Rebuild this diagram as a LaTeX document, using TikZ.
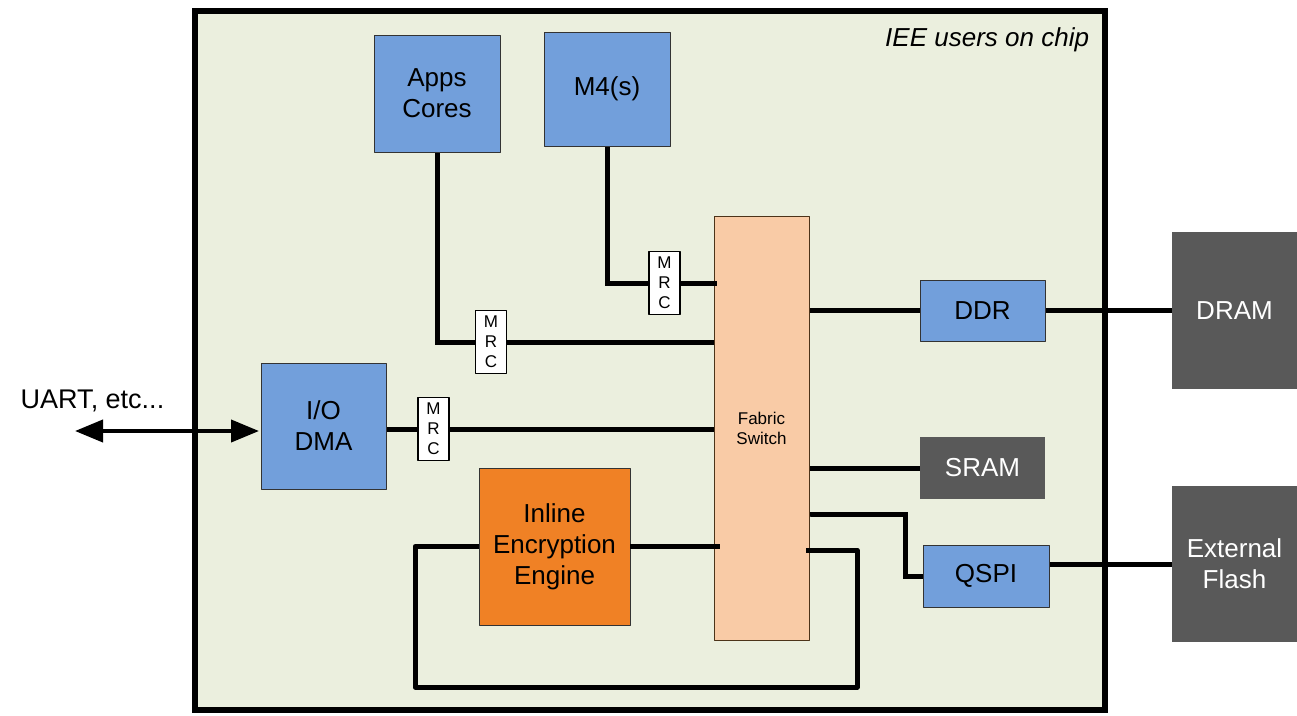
\documentclass[tikz,border=0pt]{standalone}
\usepackage{fontspec}
\setmainfont{Liberation Sans}
\definecolor{chip}{RGB}{235,239,222}
\definecolor{core}{RGB}{114,159,219}
\definecolor{fabric}{RGB}{249,203,166}
\definecolor{engine}{RGB}{240,129,37}
\definecolor{memory}{RGB}{89,89,89}
\usetikzlibrary{arrows.meta}
\usetikzlibrary{backgrounds}
\tikzstyle{base}=[x=1pt, y=-1pt, inner sep=0pt, outer sep=0pt, line join=round]
\tikzstyle{blk}=[draw=black!80, line width=0.8pt, align=center, font=\fontsize{26}{31}\selectfont]
\tikzstyle{unit}=[blk, fill=core]
\tikzstyle{mem}=[blk, draw=none, fill=memory, text=white]
\tikzstyle{mrc}=[draw=black, line width=1.2pt, fill=white, minimum width=31pt, minimum height=63pt, align=center, font=\fontsize{17}{20}\selectfont]
\tikzstyle{wire}=[line width=5pt, line cap=round]
\tikzstyle{tap}=[line width=5pt, line cap=butt]

\begin{document}
\begin{tikzpicture}[base]
    \path [use as bounding box] (0,0) rectangle (1297,715);
    \node [anchor=east, font=\fontsize{26}{30}\selectfont\itshape] (title) at (1089,40) {IEE users on chip};

    % processors and DMA
    \node [unit, minimum width=126pt, minimum height=117pt] (apps) at (437,93.5) {Apps\\Cores};
    \node [unit, minimum width=126pt, minimum height=114pt] (m4) at (607,89) {M4(s)};
    \node [unit, minimum width=125pt, minimum height=126pt] (iodma) at (323.5,426) {I/O\\DMA};
    \node [blk, fill=engine, minimum width=151pt, minimum height=157pt] (iee) at (554.5,546.5) {Inline\\Encryption\\Engine};

    % switch
    \node [draw=black!60!brown, line width=0.8pt, fill=fabric, minimum width=95pt, minimum height=424pt, align=center, font=\fontsize{17}{20}\selectfont] (fabric) at (761.5,428) {Fabric\\Switch};

    % memory side
    \node [unit, minimum width=125pt, minimum height=61pt] (ddr) at (982.5,310.5) {DDR};
    \node [mem, minimum width=125pt, minimum height=62pt] (sram) at (982.5,468) {SRAM};
    \node [unit, minimum width=126pt, minimum height=62pt] (qspi) at (986,576) {QSPI};
    \node [mem, minimum width=125pt, minimum height=157pt] (dram) at (1234.5,310.5) {DRAM};
    \node [mem, minimum width=125pt, minimum height=156pt] (flash) at (1234.5,564) {External\\Flash};

    \node [mrc] (mrcA) at (664.5,283) {M\\R\\C};
    \node [mrc] (mrcB) at (491,342) {M\\R\\C};
    \node [mrc] (mrcC) at (433.5,429) {M\\R\\C};

    \coordinate (qspiTap) at (811,514);
    \coordinate (qspiBend) at (905,576);
    \coordinate (flashTap) at (1049,564);
    \coordinate (ieeTap) at (720,546.5);
    \coordinate (loopA) at (806,550);
    \coordinate (loopB) at (857,687);
    \coordinate (loopC) at (415,687);
    \coordinate (uart) at (75,431);

    % chip outline and wiring go underneath the blocks
    \begin{pgfonlayer}{background}
        \draw [line width=6.5pt, fill=chip] (195,11) rectangle (1105,710);
        \draw [wire] (apps.south) |- (mrcB.west);
        \draw [wire] (mrcB.east) -- (mrcB.east -| fabric.west);
        \draw [wire] (m4.south) |- (mrcA.west);
        \draw [wire] (iodma.east |- mrcC) -- (mrcC.west);
        \draw [wire] (mrcC.east) -- (mrcC.east -| fabric.west);
        \draw [wire] (fabric.east |- ddr) -- (ddr.west);
        \draw [wire] (ddr.east) -- (ddr.east -| dram.west);
        \draw [wire] (fabric.east |- sram) -- (sram.west);
        \draw [wire] (qspiTap) -| (qspiBend) -- (qspi.west);
        \draw [wire] (flashTap) -- (flashTap -| flash.west);
    \end{pgfonlayer}

    % these reach a little into the switch
    \draw [tap] (mrcA.east) -- ([xshift=3pt]mrcA.east -| fabric.west);
    \draw [tap] (iee.east) -- (ieeTap);
    \draw [tap] (loopA) -| (loopB) -- (loopC) |- (iee.west);

    \draw [line width=4pt, {Triangle[length=28pt,width=22pt]}-{Triangle[length=28pt,width=22pt]}] (uart) -- ([xshift=-2pt]uart -| iodma.west);
    \node [font=\fontsize{27}{31}\selectfont] (uartText) at (92.5,401) {UART, etc...};
\end{tikzpicture}
\end{document}
